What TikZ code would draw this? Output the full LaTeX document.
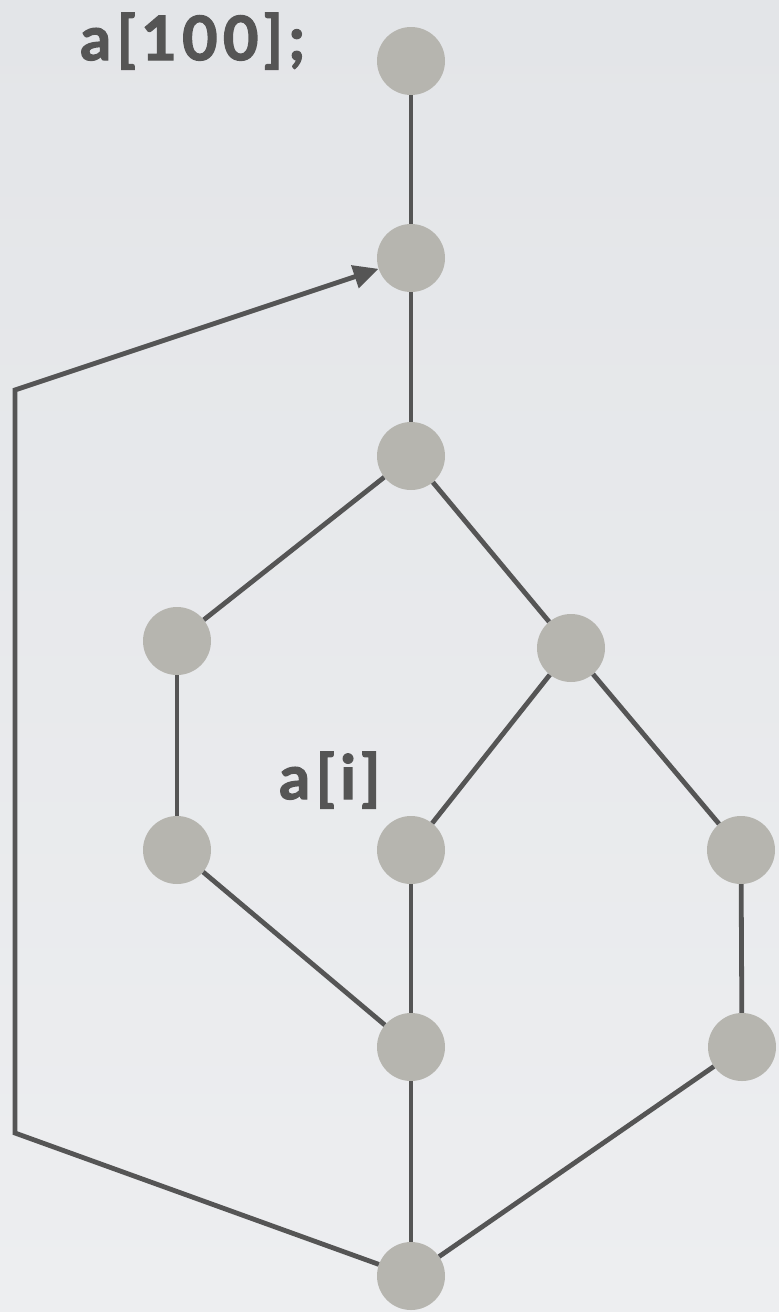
\documentclass[tikz,border=0pt]{standalone}
\usepackage{fontspec}
\setmainfont{Lato}
\newfontfamily\labelfont[LetterSpace=9,FakeBold=2.2]{Lato}
\usetikzlibrary{arrows.meta}
\definecolor{bgtop}{HTML}{E3E5E8}
\definecolor{bgbot}{HTML}{EDEEF0}
\definecolor{edgecol}{HTML}{555555}
\definecolor{nodefill}{HTML}{B6B5AF}
\begin{document}
\begin{tikzpicture}[x=1pt,y=-1pt,
  vert/.style={circle,fill=nodefill,minimum size=68pt,inner sep=0pt},
  edge/.style={draw=edgecol,line width=4.8pt},
  lbl/.style={text=edgecol,font=\labelfont\fontsize{61}{61}\selectfont\bfseries,inner sep=0pt}]
  % background
  \shade[top color=bgtop,bottom color=bgbot] (0,0) rectangle (779,1312);
  \useasboundingbox (0,0) rectangle (779,1312);
  % vertices
  \node[vert] (n1)  at (411,61)   {};
  \node[vert] (n2)  at (411,258)  {};
  \node[vert] (n3)  at (411,456)  {};
  \node[vert] (n4)  at (177,641)  {};
  \node[vert] (n5)  at (571,648)  {};
  \node[vert] (n6)  at (177,850)  {};
  \node[vert] (n7)  at (411,850)  {};
  \node[vert] (n8)  at (741,850)  {};
  \node[vert] (n9)  at (411,1047) {};
  \node[vert] (n10) at (742,1047) {};
  \node[vert] (n11) at (411,1276) {};
  % corners of the back edge
  \coordinate (bl) at (15,1133);
  \coordinate (tl) at (15,390);
  % labels
  \node[lbl,anchor=base west] (t1) at (80,60) {a[100];};
  \node[lbl,anchor=base west] (t2) at (279,799) {a[i]};
  % edges
  \draw[edge] (n1) -- (n2);
  \draw[edge] (n2) -- (n3);
  \draw[edge] (n3) -- (n4);
  \draw[edge] (n3) -- (n5);
  \draw[edge] (n4) -- (n6);
  \draw[edge] (n5) -- (n7);
  \draw[edge] (n5) -- (n8);
  \draw[edge] (n6) -- (n9);
  \draw[edge] (n7) -- (n9);
  \draw[edge] (n8) -- (n10);
  \draw[edge] (n9) -- (n11);
  \draw[edge] (n10) -- (n11);
  \draw[edge,line join=miter,-{Triangle[length=25pt,width=23pt]}] (n11) -- (bl) -- (tl) -- (n2);
\end{tikzpicture}
\end{document}
